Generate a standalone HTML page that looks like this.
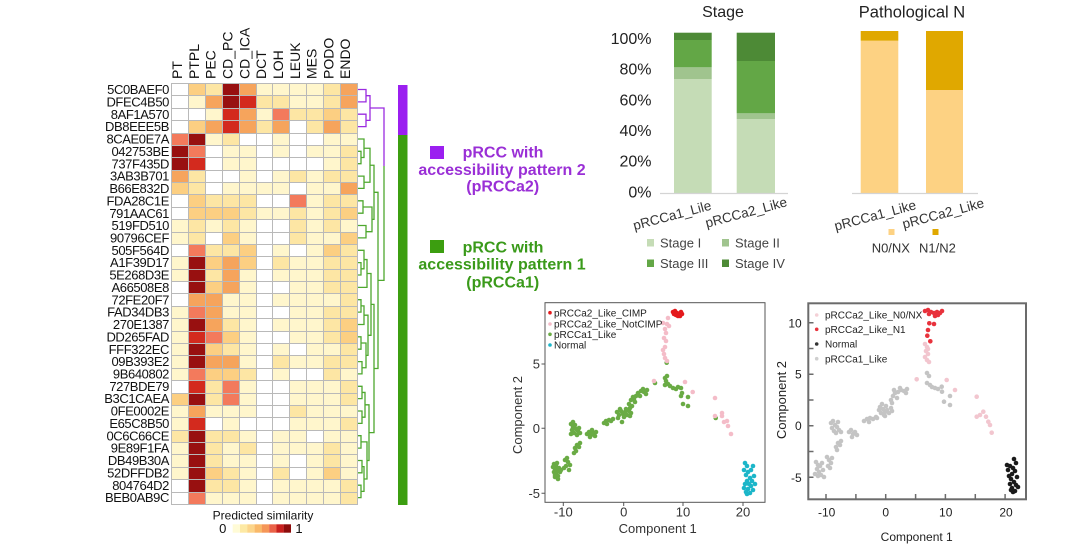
<!DOCTYPE html>
<html><head><meta charset="utf-8"><style>
html,body{margin:0;padding:0;background:#fff;}
body{width:1080px;height:554px;position:relative;overflow:hidden;font-family:"Liberation Sans",Arial,sans-serif;}
svg{position:absolute;left:0;top:0;}
.g{position:absolute;left:171px;top:83px;width:187px;height:422px;display:grid;grid-template-columns:repeat(11,1fr);grid-template-rows:repeat(34,1fr);gap:1px;padding:1px;box-sizing:border-box;background:#b9b9b9;}
.g i{display:block}
.a0{background:#ffffff}.a1{background:#fff6cc}.a2{background:#fde6a4}.a3{background:#fccf82}.a4{background:#f6a45c}.a5{background:#f37a5c}.a6{background:#d32a1e}.a7{background:#981010}
text{font-family:"Liberation Sans",Arial,sans-serif;}
</style></head><body>
<svg width="1080" height="554" viewBox="0 0 1080 554" xmlns="http://www.w3.org/2000/svg">
<!-- column labels -->
<g font-size="14" fill="#111">
<text transform="translate(182.1,79) rotate(-90)">PT</text>
<text transform="translate(198.9,79) rotate(-90)">PTPL</text>
<text transform="translate(215.7,79) rotate(-90)">PEC</text>
<text transform="translate(232.6,79) rotate(-90)">CD_PC</text>
<text transform="translate(249.4,79) rotate(-90)">CD_ICA</text>
<text transform="translate(266.2,79) rotate(-90)">DCT</text>
<text transform="translate(283,79) rotate(-90)">LOH</text>
<text transform="translate(299.8,79) rotate(-90)">LEUK</text>
<text transform="translate(316.6,79) rotate(-90)">MES</text>
<text transform="translate(333.4,79) rotate(-90)">PODO</text>
<text transform="translate(350.2,79) rotate(-90)">ENDO</text>
</g>
<!-- row labels -->
<g font-size="13" fill="#111" text-anchor="end" letter-spacing="-0.4">
<text x="169" y="94.1">5C0BAEF0</text>
<text x="169" y="106.5">DFEC4B50</text>
<text x="169" y="118.8">8AF1A570</text>
<text x="169" y="131.2">DB8EEE5B</text>
<text x="169" y="143.6">8CAE0E7A</text>
<text x="169" y="155.9">042753BE</text>
<text x="169" y="168.3">737F435D</text>
<text x="169" y="180.7">3AB3B701</text>
<text x="169" y="193">B66E832D</text>
<text x="169" y="205.4">FDA28C1E</text>
<text x="169" y="217.8">791AAC61</text>
<text x="169" y="230.1">519FD510</text>
<text x="169" y="242.5">90796CEF</text>
<text x="169" y="254.9">505F564D</text>
<text x="169" y="267.2">A1F39D17</text>
<text x="169" y="279.6">5E268D3E</text>
<text x="169" y="292">A66508E8</text>
<text x="169" y="304.3">72FE20F7</text>
<text x="169" y="316.7">FAD34DB3</text>
<text x="169" y="329.1">270E1387</text>
<text x="169" y="341.4">DD265FAD</text>
<text x="169" y="353.8">FFF322EC</text>
<text x="169" y="366.2">09B393E2</text>
<text x="169" y="378.5">9B640802</text>
<text x="169" y="390.9">727BDE79</text>
<text x="169" y="403.2">B3C1CAEA</text>
<text x="169" y="415.6">0FE0002E</text>
<text x="169" y="428">E65C8B50</text>
<text x="169" y="440.3">0C6C66CE</text>
<text x="169" y="452.7">9E89F1FA</text>
<text x="169" y="465.1">DB49B30A</text>
<text x="169" y="477.4">52DFFDB2</text>
<text x="169" y="489.8">804764D2</text>
<text x="169" y="502.2">BEB0AB9C</text>
</g>
<!-- dendrogram -->
<g fill="none" stroke-width="1.3">
<g stroke="#9a2be0">
<path d="M357 89.5H366V101.9H357M357 114.2H366V126.6H357M366 95.7H370V120.4H366M370 108H384V166"/>
</g>
<g stroke="#4ea82e">
<path d="M357 151.3H361V163.7H357M357 139H364V157.5H361M357 176.1H364V188.4H357M364 148.25H370V182.25H364M357 200.8H363V213.2H357M357 225.5H366V237.9H357M363 207H372V231.7H366M370 165.25H374V219.35H372"/>
<path d="M357 262.6H361V275H357M357 250.3H364V268.8H361M364 259.55H367V287.4H357M357 299.7H361V312.1H357M361 305.9H364V324.5H357M357 336.8H361V349.2H357M357 361.6H362V373.9H357M361 343H366V367.75H362M364 315.2H368V355.4H366M367 273.5H371V335.3H368"/>
<path d="M357 386.3H362V398.6H357M357 411H362V423.4H357M362 392.45H365V417.2H362M357 435.7H361V448.1H357M357 460.5H362V472.8H357M357 485.2H361V497.6H357M362 466.65H364V491.4H361M361 441.9H367V479H364M365 404.8H369V460.5H367M371 304.4H374V432.65H369M374 192.3H378V368.5H374M384 166V280.4H378"/>
</g>
</g>
<!-- group color bar -->
<rect x="398" y="85" width="9.5" height="50" fill="#9b1ff0"/>
<rect x="398" y="135" width="9.5" height="370" fill="#3c9e10"/>
<!-- group legend -->
<rect x="430" y="146" width="14" height="13" fill="#9b1ff0"/>
<g font-size="16" font-weight="bold" fill="#9a2fd6" text-anchor="middle">
<text x="503" y="157.3">pRCC with</text>
<text x="502" y="175">accessibility pattern 2</text>
<text x="502.7" y="191.7">(pRCCa2)</text>
</g>
<rect x="430" y="240" width="14" height="13" fill="#3c9e10"/>
<g font-size="16" font-weight="bold" fill="#3a9a1a" text-anchor="middle">
<text x="503" y="252.7">pRCC with</text>
<text x="502" y="269.3">accessibility pattern 1</text>
<text x="502.7" y="287.3">(pRCCa1)</text>
</g>
<!-- colorbar -->
<text x="263" y="519.3" font-size="12" fill="#111" text-anchor="middle">Predicted similarity</text>
<text x="222.7" y="533" font-size="13" fill="#111" text-anchor="middle">0</text>
<text x="299" y="533" font-size="13" fill="#111" text-anchor="middle">1</text>
<g>
<rect x="232.7" y="524.3" width="7.4" height="8.4" fill="#fffbd6"/>
<rect x="240" y="524.3" width="7.4" height="8.4" fill="#fde9a4"/>
<rect x="247.3" y="524.3" width="7.4" height="8.4" fill="#fcd58a"/>
<rect x="254.6" y="524.3" width="7.4" height="8.4" fill="#f9b96a"/>
<rect x="261.9" y="524.3" width="7.4" height="8.4" fill="#f59658"/>
<rect x="269.2" y="524.3" width="7.4" height="8.4" fill="#ea6248"/>
<rect x="276.5" y="524.3" width="7.4" height="8.4" fill="#c8201e"/>
<rect x="283.8" y="524.3" width="7.2" height="8.4" fill="#8d0c0c"/>
</g>

<!-- Stage chart -->
<text x="723" y="17" font-size="16" fill="#222" text-anchor="middle">Stage</text>
<g font-size="16" fill="#222" text-anchor="end">
<text x="651.5" y="44">100%</text>
<text x="651.5" y="74.7">80%</text>
<text x="651.5" y="105.4">60%</text>
<text x="651.5" y="136">40%</text>
<text x="651.5" y="166.7">20%</text>
<text x="651.5" y="197.4">0%</text>
</g>
<rect x="674" y="79" width="37.7" height="114" fill="#c5dcb6"/>
<rect x="674" y="67.3" width="37.7" height="11.7" fill="#a0c48e"/>
<rect x="674" y="40" width="37.7" height="27.3" fill="#63a746"/>
<rect x="674" y="32.7" width="37.7" height="7.3" fill="#4d8a36"/>
<rect x="736.7" y="119" width="38.3" height="74" fill="#c5dcb6"/>
<rect x="736.7" y="113.3" width="38.3" height="5.7" fill="#a0c48e"/>
<rect x="736.7" y="61" width="38.3" height="52.3" fill="#63a746"/>
<rect x="736.7" y="32.7" width="38.3" height="28.3" fill="#4d8a36"/>
<line x1="660" y1="193.5" x2="788" y2="193.5" stroke="#d4d4d4" stroke-width="1.2"/>
<g font-size="13.5" fill="#333" text-anchor="middle">
<text x="672" y="220" transform="rotate(-15 672 215)">pRCCa1_Lile</text>
<text x="746" y="217" transform="rotate(-15 746 212)">pRCCa2_Like</text>
</g>
<rect x="647" y="239" width="7" height="7.5" fill="#c5dcb6"/>
<rect x="722" y="239" width="7" height="7.5" fill="#a0c48e"/>
<rect x="647" y="259.5" width="7" height="7.5" fill="#63a746"/>
<rect x="722" y="259.5" width="7" height="7.5" fill="#4d8a36"/>
<g font-size="13" fill="#444">
<text x="660" y="247.5">Stage I</text>
<text x="735" y="247.5">Stage II</text>
<text x="660" y="268">Stage III</text>
<text x="735" y="268">Stage IV</text>
</g>

<!-- Pathological N -->
<text x="912" y="17.5" font-size="16.5" fill="#222" text-anchor="middle">Pathological N</text>
<rect x="860.7" y="40.7" width="37.6" height="152.3" fill="#fdd283"/>
<rect x="860.7" y="31" width="37.6" height="9.7" fill="#e0a800"/>
<rect x="926" y="90" width="37" height="103" fill="#fdd283"/>
<rect x="926" y="31" width="37" height="59" fill="#e0a800"/>
<line x1="852" y1="193.5" x2="978" y2="193.5" stroke="#d4d4d4" stroke-width="1.2"/>
<g font-size="13.5" fill="#333" text-anchor="middle">
<text x="875" y="220" transform="rotate(-15 875 215)">pRCCa1_Like</text>
<text x="943" y="218" transform="rotate(-15 943 213)">pRCCa2_Like</text>
</g>
<rect x="888.5" y="229" width="6" height="6" fill="#fdd283"/>
<rect x="932.5" y="229" width="6" height="6" fill="#e0a800"/>
<g font-size="13" fill="#333">
<text x="871.7" y="252.5">N0/NX</text>
<text x="919" y="252.5">N1/N2</text>
</g>

<!-- Scatter 1 -->
<rect x="545" y="302.7" width="220" height="199.6" fill="#fff" stroke="#555" stroke-width="1"/>
<g stroke="#555" stroke-width="1">
<path d="M563.3 502.3V506M623.7 502.3V506M683 502.3V506M743 502.3V506M541.5 364H545M541.5 428.3H545M541.5 493.3H545"/>
</g>
<g font-size="13" fill="#333">
<g text-anchor="end">
<text x="540" y="368.5">5</text>
<text x="540" y="432.8">0</text>
<text x="540" y="497.8">-5</text>
</g>
<g text-anchor="middle">
<text x="563.3" y="516.5">-10</text>
<text x="623.7" y="516.5">0</text>
<text x="683" y="516.5">10</text>
<text x="743" y="516.5">20</text>
<text x="657.7" y="533">Component 1</text>
<text transform="translate(522,415) rotate(-90)">Component 2</text>
</g>
</g>
<g fill="#6aab45">
<circle cx="554" cy="464" r="2.3"/><circle cx="556" cy="466" r="2.3"/><circle cx="555" cy="469" r="2.3"/><circle cx="557" cy="471" r="2.3"/><circle cx="554" cy="472" r="2.3"/><circle cx="556" cy="474" r="2.3"/><circle cx="558" cy="476" r="2.3"/><circle cx="555" cy="477" r="2.3"/><circle cx="559" cy="468" r="2.3"/><circle cx="560" cy="472" r="2.3"/><circle cx="557" cy="463" r="2.3"/><circle cx="553" cy="467" r="2.3"/><circle cx="558" cy="479" r="2.3"/><circle cx="561" cy="470" r="2.3"/><circle cx="555" cy="475" r="2.3"/>
<circle cx="565" cy="460" r="2.3"/><circle cx="567" cy="458" r="2.3"/><circle cx="568" cy="462" r="2.3"/><circle cx="566" cy="466" r="2.3"/><circle cx="569" cy="470" r="2.3"/><circle cx="564" cy="468" r="2.3"/><circle cx="570" cy="465" r="2.3"/>
<circle cx="575" cy="448" r="2.3"/><circle cx="577" cy="445" r="2.3"/><circle cx="579" cy="447" r="2.3"/><circle cx="576" cy="451" r="2.3"/><circle cx="580" cy="443" r="2.3"/><circle cx="574" cy="453" r="2.3"/>
<circle cx="571" cy="424" r="2.3"/><circle cx="573" cy="427" r="2.3"/><circle cx="575" cy="425" r="2.3"/><circle cx="572" cy="430" r="2.3"/><circle cx="574" cy="433" r="2.3"/><circle cx="576" cy="429" r="2.3"/><circle cx="578" cy="431" r="2.3"/><circle cx="580" cy="433" r="2.3"/><circle cx="577" cy="435" r="2.3"/><circle cx="571" cy="434" r="2.3"/><circle cx="573" cy="422" r="2.3"/><circle cx="579" cy="428" r="2.3"/>
<circle cx="587" cy="434" r="2.3"/><circle cx="589" cy="432" r="2.3"/><circle cx="591" cy="435" r="2.3"/><circle cx="593" cy="433" r="2.3"/><circle cx="595" cy="436" r="2.3"/><circle cx="590" cy="437" r="2.3"/><circle cx="596" cy="432" r="2.3"/><circle cx="592" cy="430" r="2.3"/>
<circle cx="604" cy="423" r="2.3"/><circle cx="606" cy="421" r="2.3"/><circle cx="609" cy="420" r="2.3"/><circle cx="611" cy="421" r="2.3"/><circle cx="613" cy="419" r="2.3"/><circle cx="607" cy="424" r="2.3"/>
<circle cx="617" cy="412" r="2.3"/><circle cx="619" cy="415" r="2.3"/><circle cx="621" cy="411" r="2.3"/><circle cx="623" cy="414" r="2.3"/><circle cx="625" cy="412" r="2.3"/><circle cx="627" cy="415" r="2.3"/><circle cx="629" cy="411" r="2.3"/><circle cx="631" cy="413" r="2.3"/><circle cx="624" cy="417" r="2.3"/><circle cx="620" cy="409" r="2.3"/><circle cx="626" cy="409" r="2.3"/><circle cx="618" cy="418" r="2.3"/><circle cx="630" cy="416" r="2.3"/><circle cx="622" cy="422" r="2.3"/>
<circle cx="629" cy="404" r="2.3"/><circle cx="631" cy="400" r="2.3"/><circle cx="633" cy="397" r="2.3"/><circle cx="635" cy="402" r="2.3"/><circle cx="632" cy="406" r="2.3"/><circle cx="636" cy="396" r="2.3"/><circle cx="630" cy="408" r="2.3"/><circle cx="634" cy="399" r="2.3"/>
<circle cx="638" cy="393" r="2.3"/><circle cx="641" cy="391" r="2.3"/><circle cx="644" cy="392" r="2.3"/><circle cx="647" cy="390" r="2.3"/><circle cx="640" cy="396" r="2.3"/><circle cx="646" cy="394" r="2.3"/><circle cx="643" cy="389" r="2.3"/>
<circle cx="655" cy="383" r="2.3"/><circle cx="665" cy="378" r="2.3"/><circle cx="667" cy="376" r="2.3"/><circle cx="666" cy="381" r="2.3"/><circle cx="668" cy="384" r="2.3"/><circle cx="665" cy="385" r="2.3"/><circle cx="670" cy="386" r="2.3"/><circle cx="673" cy="388" r="2.3"/><circle cx="676" cy="389" r="2.3"/><circle cx="678" cy="387" r="2.3"/><circle cx="681" cy="388" r="2.3"/><circle cx="682" cy="393" r="2.3"/><circle cx="681" cy="396" r="2.3"/><circle cx="688" cy="397" r="2.3"/><circle cx="683" cy="404" r="2.3"/><circle cx="688" cy="406" r="2.3"/><circle cx="666.7" cy="362.7" r="2.3"/><circle cx="715.7" cy="418" r="2.3"/>
</g>
<g fill="#f4bcc8">
<circle cx="654" cy="381" r="2.3"/><circle cx="663" cy="323" r="2.3"/><circle cx="667" cy="324" r="2.3"/><circle cx="665" cy="329" r="2.3"/><circle cx="666" cy="333" r="2.3"/><circle cx="664" cy="338" r="2.3"/><circle cx="666" cy="341" r="2.3"/><circle cx="665" cy="347" r="2.3"/><circle cx="663" cy="350" r="2.3"/><circle cx="664" cy="354" r="2.3"/><circle cx="665" cy="358" r="2.3"/><circle cx="667" cy="361" r="2.3"/><circle cx="669" cy="326" r="2.3"/><circle cx="685" cy="382" r="2.3"/><circle cx="692.7" cy="392" r="2.3"/><circle cx="715" cy="398" r="2.3"/><circle cx="715" cy="416" r="2.3"/><circle cx="722" cy="416" r="2.3"/><circle cx="724" cy="422" r="2.3"/><circle cx="728" cy="426" r="2.3"/><circle cx="731" cy="434" r="2.3"/><circle cx="722" cy="413" r="2.3"/><circle cx="727" cy="421" r="2.3"/><circle cx="668" cy="318" r="2.3"/>
</g>
<g fill="#e41a1c">
<circle cx="673" cy="312" r="2.3"/><circle cx="675" cy="311" r="2.3"/><circle cx="677" cy="313" r="2.3"/><circle cx="679" cy="314" r="2.3"/><circle cx="681" cy="312" r="2.3"/><circle cx="676" cy="315" r="2.3"/><circle cx="678" cy="316" r="2.3"/><circle cx="674" cy="314" r="2.3"/><circle cx="680" cy="316" r="2.3"/><circle cx="682" cy="314" r="2.3"/>
</g>
<g fill="#1cb6c9">
<circle cx="745" cy="463" r="2.3"/><circle cx="747" cy="466" r="2.3"/><circle cx="744" cy="470" r="2.3"/><circle cx="748" cy="472" r="2.3"/><circle cx="746" cy="475" r="2.3"/><circle cx="750" cy="478" r="2.3"/><circle cx="747" cy="481" r="2.3"/><circle cx="749" cy="484" r="2.3"/><circle cx="751" cy="486" r="2.3"/><circle cx="748" cy="489" r="2.3"/><circle cx="746" cy="492" r="2.3"/><circle cx="750" cy="493" r="2.3"/><circle cx="753" cy="490" r="2.3"/><circle cx="752" cy="481" r="2.3"/><circle cx="754" cy="476" r="2.3"/><circle cx="745" cy="484" r="2.3"/><circle cx="744" cy="488" r="2.3"/><circle cx="751" cy="470" r="2.3"/><circle cx="753" cy="466" r="2.3"/><circle cx="755" cy="484" r="2.3"/><circle cx="747" cy="494" r="2.3"/>
</g>
<circle cx="550" cy="312.7" r="1.8" fill="#e41a1c"/>
<circle cx="550" cy="324" r="1.8" fill="#f4bcc8"/>
<circle cx="550" cy="334.3" r="1.8" fill="#6aab45"/>
<circle cx="550" cy="345" r="1.8" fill="#1cb6c9"/>
<g font-size="10" fill="#222">
<text x="554" y="316.3">pRCCa2_Like_CIMP</text>
<text x="554" y="327.6">pRCCa2_Like_NotCIMP</text>
<text x="554" y="337.9">pRCCa1_Like</text>
<text x="554" y="348.6">Normal</text>
</g>

<!-- Scatter 2 -->
<rect x="808.3" y="303.3" width="217.7" height="196" fill="#fff" stroke="#6b6b6b" stroke-width="2"/>
<g stroke="#6b6b6b" stroke-width="1.5">
<path d="M826 499.3V494M855.9 499.3V494M885.7 499.3V494M915.6 499.3V494M945.4 499.3V494M975.3 499.3V494M1005.1 499.3V494M808.3 322.7H813.5M808.3 348.5H813.5M808.3 374.2H813.5M808.3 400H813.5M808.3 425.7H813.5M808.3 451.5H813.5M808.3 477.2H813.5"/>
</g>
<g font-size="12" fill="#222">
<g text-anchor="end">
<text x="801.7" y="327.5">10</text>
<text x="801.7" y="378.5">5</text>
<text x="801.7" y="430">0</text>
<text x="801.7" y="482">-5</text>
</g>
<g text-anchor="middle">
<text x="826.7" y="516.5">-10</text>
<text x="885.7" y="516.5">0</text>
<text x="945.7" y="516.5">10</text>
<text x="1006" y="516.5">20</text>
<text x="916.7" y="541">Component 1</text>
<text font-size="13" transform="translate(786,400) rotate(-90)">Component 2</text>
</g>
</g>
<g fill="#c4c4c4">
<circle cx="816" cy="462" r="2.3"/><circle cx="818" cy="465" r="2.3"/><circle cx="817" cy="469" r="2.3"/><circle cx="819" cy="472" r="2.3"/><circle cx="821" cy="475" r="2.3"/><circle cx="823" cy="470" r="2.3"/><circle cx="820" cy="466" r="2.3"/><circle cx="815" cy="474" r="2.3"/><circle cx="822" cy="463" r="2.3"/><circle cx="824" cy="477" r="2.3"/><circle cx="818" cy="476" r="2.3"/>
<circle cx="827" cy="457" r="2.3"/><circle cx="829" cy="460" r="2.3"/><circle cx="831" cy="463" r="2.3"/><circle cx="828" cy="466" r="2.3"/><circle cx="832" cy="458" r="2.3"/><circle cx="830" cy="468" r="2.3"/>
<circle cx="836" cy="447" r="2.3"/><circle cx="838" cy="443" r="2.3"/><circle cx="840" cy="445" r="2.3"/><circle cx="837" cy="450" r="2.3"/><circle cx="841" cy="441" r="2.3"/>
<circle cx="831" cy="423" r="2.3"/><circle cx="833" cy="421" r="2.3"/><circle cx="835" cy="425" r="2.3"/><circle cx="832" cy="428" r="2.3"/><circle cx="834" cy="431" r="2.3"/><circle cx="837" cy="427" r="2.3"/><circle cx="839" cy="430" r="2.3"/><circle cx="841" cy="432" r="2.3"/><circle cx="836" cy="433" r="2.3"/><circle cx="838" cy="422" r="2.3"/>
<circle cx="849" cy="432" r="2.3"/><circle cx="851" cy="430" r="2.3"/><circle cx="853" cy="434" r="2.3"/><circle cx="855" cy="432" r="2.3"/><circle cx="857" cy="435" r="2.3"/><circle cx="852" cy="437" r="2.3"/>
<circle cx="864" cy="421" r="2.3"/><circle cx="867" cy="419" r="2.3"/><circle cx="870" cy="418" r="2.3"/><circle cx="873" cy="419" r="2.3"/><circle cx="876" cy="417" r="2.3"/><circle cx="869" cy="422" r="2.3"/>
<circle cx="879" cy="410" r="2.3"/><circle cx="881" cy="413" r="2.3"/><circle cx="883" cy="409" r="2.3"/><circle cx="885" cy="412" r="2.3"/><circle cx="887" cy="410" r="2.3"/><circle cx="889" cy="413" r="2.3"/><circle cx="891" cy="408" r="2.3"/><circle cx="884" cy="415" r="2.3"/><circle cx="880" cy="407" r="2.3"/><circle cx="886" cy="406" r="2.3"/><circle cx="882" cy="404" r="2.3"/><circle cx="892" cy="411" r="2.3"/><circle cx="885" cy="416" r="2.3"/><circle cx="877" cy="418" r="2.3"/>
<circle cx="891" cy="400" r="2.3"/><circle cx="893" cy="396" r="2.3"/><circle cx="895" cy="393" r="2.3"/><circle cx="897" cy="398" r="2.3"/><circle cx="892" cy="403" r="2.3"/><circle cx="894" cy="390" r="2.3"/>
<circle cx="898" cy="392" r="2.3"/><circle cx="901" cy="390" r="2.3"/><circle cx="904" cy="391" r="2.3"/><circle cx="907" cy="389" r="2.3"/><circle cx="900" cy="388" r="2.3"/><circle cx="906" cy="393" r="2.3"/>
<circle cx="927" cy="373" r="2.3"/><circle cx="929" cy="376" r="2.3"/><circle cx="927" cy="383" r="2.3"/><circle cx="930" cy="385" r="2.3"/><circle cx="932" cy="387" r="2.3"/><circle cx="935" cy="388" r="2.3"/><circle cx="938" cy="389" r="2.3"/><circle cx="941.7" cy="386.7" r="2.3"/><circle cx="950" cy="396" r="2.3"/><circle cx="944" cy="401.7" r="2.3"/><circle cx="950" cy="405" r="2.3"/><circle cx="942" cy="391.7" r="2.3"/>
</g>
<g fill="#f2c6cf">
<circle cx="925" cy="344" r="2.3"/><circle cx="927" cy="347" r="2.3"/><circle cx="926" cy="351" r="2.3"/><circle cx="928" cy="354" r="2.3"/><circle cx="925" cy="357" r="2.3"/><circle cx="927" cy="360" r="2.3"/><circle cx="929" cy="362" r="2.3"/><circle cx="928" cy="349" r="2.3"/><circle cx="916.7" cy="379.3" r="2.3"/><circle cx="946.7" cy="380" r="2.3"/><circle cx="955" cy="390" r="2.3"/><circle cx="976.7" cy="396.7" r="2.3"/><circle cx="976.7" cy="416.7" r="2.3"/><circle cx="983.3" cy="411.7" r="2.3"/><circle cx="986" cy="416.7" r="2.3"/><circle cx="988.3" cy="421.7" r="2.3"/><circle cx="990" cy="425" r="2.3"/><circle cx="991.7" cy="432.7" r="2.3"/><circle cx="980" cy="415" r="2.3"/>
</g>
<g fill="#e8323c">
<circle cx="925" cy="311" r="2.3"/><circle cx="928" cy="310" r="2.3"/><circle cx="931" cy="312" r="2.3"/><circle cx="934" cy="313" r="2.3"/><circle cx="937" cy="312" r="2.3"/><circle cx="940" cy="313" r="2.3"/><circle cx="935" cy="316" r="2.3"/><circle cx="938" cy="315" r="2.3"/><circle cx="929" cy="314" r="2.3"/><circle cx="942" cy="311" r="2.3"/><circle cx="929.3" cy="323.3" r="2.3"/><circle cx="934" cy="324" r="2.3"/><circle cx="928" cy="330" r="2.3"/><circle cx="927.3" cy="335.7" r="2.3"/><circle cx="930.3" cy="341.3" r="2.3"/>
</g>
<g fill="#1a1a1a">
<circle cx="1014" cy="459" r="2.3"/><circle cx="1016" cy="463" r="2.3"/><circle cx="1007" cy="465" r="2.3"/><circle cx="1010" cy="466" r="2.3"/><circle cx="1013" cy="468" r="2.3"/><circle cx="1015" cy="471" r="2.3"/><circle cx="1012" cy="474" r="2.3"/><circle cx="1009" cy="476" r="2.3"/><circle cx="1011" cy="479" r="2.3"/><circle cx="1014" cy="482" r="2.3"/><circle cx="1016" cy="485" r="2.3"/><circle cx="1010" cy="484" r="2.3"/><circle cx="1012" cy="488" r="2.3"/><circle cx="1015" cy="491" r="2.3"/><circle cx="1013" cy="492" r="2.3"/><circle cx="1017" cy="477" r="2.3"/><circle cx="1008" cy="470" r="2.3"/><circle cx="1018" cy="487" r="2.3"/><circle cx="1011" cy="490" r="2.3"/>
</g>
<circle cx="816.7" cy="315" r="1.8" fill="#f4d0d6"/>
<circle cx="816.7" cy="329.3" r="1.8" fill="#e8323c"/>
<circle cx="816.7" cy="344" r="1.8" fill="#333"/>
<circle cx="816.7" cy="358.7" r="1.8" fill="#cfcfcf"/>
<g font-size="10" fill="#222">
<text x="825" y="318.6">pRCCa2_Like_N0/NX</text>
<text x="825" y="332.9">pRCCa2_Like_N1</text>
<text x="825" y="347.6">Normal</text>
<text x="825" y="362.3">pRCCa1_Like</text>
</g>
</svg>
<div class="g">
<i class="a0"></i><i class="a3"></i><i class="a2"></i><i class="a7"></i><i class="a4"></i><i class="a1"></i><i class="a1"></i><i class="a1"></i><i class="a1"></i><i class="a2"></i><i class="a4"></i>
<i class="a0"></i><i class="a1"></i><i class="a4"></i><i class="a7"></i><i class="a6"></i><i class="a2"></i><i class="a2"></i><i class="a1"></i><i class="a1"></i><i class="a2"></i><i class="a4"></i>
<i class="a0"></i><i class="a0"></i><i class="a1"></i><i class="a6"></i><i class="a4"></i><i class="a1"></i><i class="a5"></i><i class="a2"></i><i class="a2"></i><i class="a3"></i><i class="a2"></i>
<i class="a0"></i><i class="a3"></i><i class="a4"></i><i class="a6"></i><i class="a4"></i><i class="a2"></i><i class="a4"></i><i class="a0"></i><i class="a2"></i><i class="a4"></i><i class="a2"></i>
<i class="a5"></i><i class="a7"></i><i class="a1"></i><i class="a2"></i><i class="a0"></i><i class="a0"></i><i class="a1"></i><i class="a0"></i><i class="a0"></i><i class="a1"></i><i class="a1"></i>
<i class="a7"></i><i class="a5"></i><i class="a0"></i><i class="a1"></i><i class="a1"></i><i class="a0"></i><i class="a1"></i><i class="a0"></i><i class="a1"></i><i class="a1"></i><i class="a2"></i>
<i class="a7"></i><i class="a6"></i><i class="a0"></i><i class="a1"></i><i class="a1"></i><i class="a0"></i><i class="a0"></i><i class="a0"></i><i class="a0"></i><i class="a1"></i><i class="a2"></i>
<i class="a4"></i><i class="a2"></i><i class="a0"></i><i class="a0"></i><i class="a1"></i><i class="a0"></i><i class="a1"></i><i class="a2"></i><i class="a1"></i><i class="a2"></i><i class="a2"></i>
<i class="a3"></i><i class="a2"></i><i class="a0"></i><i class="a1"></i><i class="a1"></i><i class="a1"></i><i class="a1"></i><i class="a0"></i><i class="a1"></i><i class="a1"></i><i class="a4"></i>
<i class="a0"></i><i class="a3"></i><i class="a2"></i><i class="a2"></i><i class="a2"></i><i class="a0"></i><i class="a0"></i><i class="a5"></i><i class="a1"></i><i class="a2"></i><i class="a2"></i>
<i class="a0"></i><i class="a3"></i><i class="a3"></i><i class="a3"></i><i class="a2"></i><i class="a1"></i><i class="a1"></i><i class="a2"></i><i class="a1"></i><i class="a2"></i><i class="a3"></i>
<i class="a1"></i><i class="a2"></i><i class="a1"></i><i class="a2"></i><i class="a1"></i><i class="a0"></i><i class="a0"></i><i class="a2"></i><i class="a1"></i><i class="a2"></i><i class="a1"></i>
<i class="a1"></i><i class="a2"></i><i class="a0"></i><i class="a3"></i><i class="a1"></i><i class="a0"></i><i class="a0"></i><i class="a2"></i><i class="a1"></i><i class="a1"></i><i class="a3"></i>
<i class="a0"></i><i class="a5"></i><i class="a2"></i><i class="a2"></i><i class="a3"></i><i class="a0"></i><i class="a1"></i><i class="a0"></i><i class="a1"></i><i class="a3"></i><i class="a2"></i>
<i class="a1"></i><i class="a7"></i><i class="a3"></i><i class="a4"></i><i class="a3"></i><i class="a0"></i><i class="a2"></i><i class="a1"></i><i class="a1"></i><i class="a2"></i><i class="a2"></i>
<i class="a1"></i><i class="a7"></i><i class="a2"></i><i class="a4"></i><i class="a1"></i><i class="a0"></i><i class="a1"></i><i class="a1"></i><i class="a1"></i><i class="a2"></i><i class="a2"></i>
<i class="a0"></i><i class="a7"></i><i class="a3"></i><i class="a4"></i><i class="a1"></i><i class="a0"></i><i class="a0"></i><i class="a1"></i><i class="a1"></i><i class="a2"></i><i class="a2"></i>
<i class="a0"></i><i class="a4"></i><i class="a4"></i><i class="a1"></i><i class="a1"></i><i class="a0"></i><i class="a1"></i><i class="a1"></i><i class="a1"></i><i class="a1"></i><i class="a2"></i>
<i class="a1"></i><i class="a5"></i><i class="a4"></i><i class="a1"></i><i class="a1"></i><i class="a0"></i><i class="a0"></i><i class="a1"></i><i class="a1"></i><i class="a2"></i><i class="a2"></i>
<i class="a1"></i><i class="a7"></i><i class="a4"></i><i class="a2"></i><i class="a1"></i><i class="a0"></i><i class="a1"></i><i class="a1"></i><i class="a1"></i><i class="a2"></i><i class="a3"></i>
<i class="a1"></i><i class="a6"></i><i class="a5"></i><i class="a3"></i><i class="a1"></i><i class="a0"></i><i class="a0"></i><i class="a1"></i><i class="a1"></i><i class="a2"></i><i class="a3"></i>
<i class="a1"></i><i class="a7"></i><i class="a3"></i><i class="a2"></i><i class="a1"></i><i class="a0"></i><i class="a1"></i><i class="a0"></i><i class="a1"></i><i class="a1"></i><i class="a2"></i>
<i class="a1"></i><i class="a7"></i><i class="a4"></i><i class="a4"></i><i class="a1"></i><i class="a0"></i><i class="a2"></i><i class="a1"></i><i class="a1"></i><i class="a2"></i><i class="a2"></i>
<i class="a1"></i><i class="a5"></i><i class="a3"></i><i class="a3"></i><i class="a2"></i><i class="a0"></i><i class="a1"></i><i class="a0"></i><i class="a0"></i><i class="a2"></i><i class="a1"></i>
<i class="a0"></i><i class="a6"></i><i class="a2"></i><i class="a5"></i><i class="a1"></i><i class="a0"></i><i class="a0"></i><i class="a1"></i><i class="a1"></i><i class="a1"></i><i class="a2"></i>
<i class="a3"></i><i class="a7"></i><i class="a2"></i><i class="a5"></i><i class="a1"></i><i class="a0"></i><i class="a0"></i><i class="a1"></i><i class="a1"></i><i class="a1"></i><i class="a2"></i>
<i class="a1"></i><i class="a4"></i><i class="a1"></i><i class="a1"></i><i class="a1"></i><i class="a0"></i><i class="a0"></i><i class="a2"></i><i class="a1"></i><i class="a1"></i><i class="a1"></i>
<i class="a1"></i><i class="a6"></i><i class="a0"></i><i class="a1"></i><i class="a0"></i><i class="a0"></i><i class="a0"></i><i class="a1"></i><i class="a1"></i><i class="a1"></i><i class="a2"></i>
<i class="a2"></i><i class="a7"></i><i class="a2"></i><i class="a2"></i><i class="a1"></i><i class="a0"></i><i class="a1"></i><i class="a1"></i><i class="a0"></i><i class="a1"></i><i class="a1"></i>
<i class="a1"></i><i class="a7"></i><i class="a2"></i><i class="a1"></i><i class="a2"></i><i class="a0"></i><i class="a1"></i><i class="a1"></i><i class="a1"></i><i class="a2"></i><i class="a1"></i>
<i class="a1"></i><i class="a7"></i><i class="a2"></i><i class="a1"></i><i class="a1"></i><i class="a0"></i><i class="a1"></i><i class="a0"></i><i class="a1"></i><i class="a2"></i><i class="a1"></i>
<i class="a1"></i><i class="a7"></i><i class="a3"></i><i class="a2"></i><i class="a1"></i><i class="a0"></i><i class="a2"></i><i class="a0"></i><i class="a1"></i><i class="a3"></i><i class="a1"></i>
<i class="a0"></i><i class="a7"></i><i class="a2"></i><i class="a2"></i><i class="a1"></i><i class="a0"></i><i class="a1"></i><i class="a1"></i><i class="a1"></i><i class="a1"></i><i class="a2"></i>
<i class="a0"></i><i class="a5"></i><i class="a1"></i><i class="a1"></i><i class="a1"></i><i class="a0"></i><i class="a1"></i><i class="a1"></i><i class="a1"></i><i class="a1"></i><i class="a2"></i>
</div>
</body></html>
